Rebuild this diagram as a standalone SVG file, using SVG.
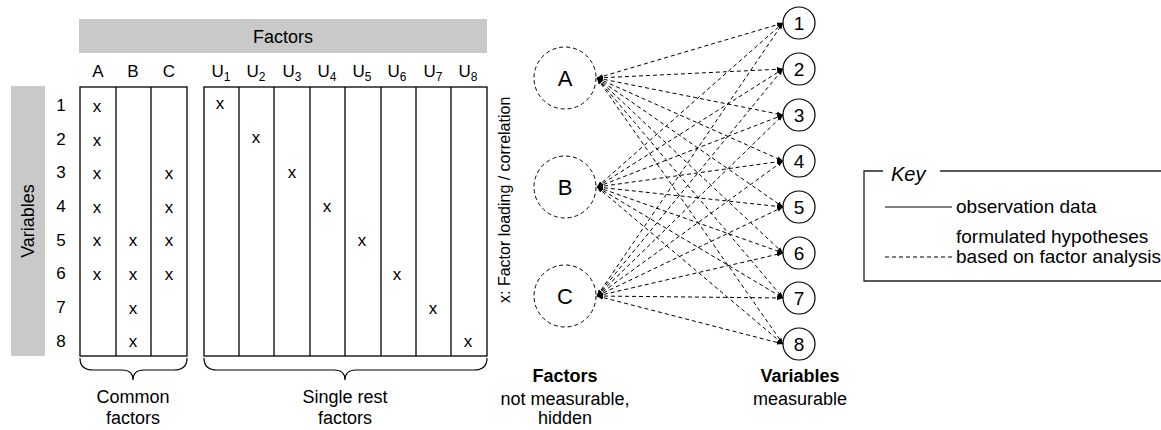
<svg xmlns="http://www.w3.org/2000/svg" width="1161" height="430" viewBox="0 0 1161 430">
<style>
text{font-family:"Liberation Sans",Arial,sans-serif;fill:#000}
.t{font-size:17px;text-anchor:middle}
.h{font-size:18px;text-anchor:middle}
.grid{fill:none;stroke:#000;stroke-width:1.3}
.brace{fill:none;stroke:#000;stroke-width:1.2}
.fc{fill:#fff;stroke:#000;stroke-width:1;stroke-dasharray:4 3}
.vc{fill:#fff;stroke:#000;stroke-width:1.2}
.hyp{stroke:#000;stroke-width:1;stroke-dasharray:4 3;fill:none;marker-start:url(#ah);marker-end:url(#ah)}
.sub{font-size:12px}
</style>
<defs>
<marker id="ah" viewBox="0 0 6 6" refX="6" refY="3" markerWidth="6" markerHeight="6" markerUnits="userSpaceOnUse" orient="auto-start-reverse">
<path d="M0,0.8 L6,3 L0,5.2 z" fill="#000"/>
</marker>
</defs>
<rect width="1161" height="430" fill="#fff"/>

<g id="matrix">
<rect x="79" y="19" width="408" height="34" fill="#c9c9c9"/>
<text class="h" x="283" y="43">Factors</text>
<rect x="11" y="86" width="34" height="270" fill="#c9c9c9"/>
<text class="h" transform="translate(34,221) rotate(-90)" x="0" y="0">Variables</text>

<g id="col-headers">
<text class="t" x="98" y="77">A</text>
<text class="t" x="133" y="77">B</text>
<text class="t" x="169" y="77">C</text>
<text class="t" x="221" y="77">U<tspan class="sub" dy="4">1</tspan></text>
<text class="t" x="256" y="77">U<tspan class="sub" dy="4">2</tspan></text>
<text class="t" x="292" y="77">U<tspan class="sub" dy="4">3</tspan></text>
<text class="t" x="327" y="77">U<tspan class="sub" dy="4">4</tspan></text>
<text class="t" x="362" y="77">U<tspan class="sub" dy="4">5</tspan></text>
<text class="t" x="397" y="77">U<tspan class="sub" dy="4">6</tspan></text>
<text class="t" x="433" y="77">U<tspan class="sub" dy="4">7</tspan></text>
<text class="t" x="468" y="77">U<tspan class="sub" dy="4">8</tspan></text>
</g>

<g id="row-numbers">
<text class="t" x="61" y="111">1</text>
<text class="t" x="61" y="145">2</text>
<text class="t" x="61" y="178">3</text>
<text class="t" x="61" y="212">4</text>
<text class="t" x="61" y="246">5</text>
<text class="t" x="61" y="279">6</text>
<text class="t" x="61" y="313">7</text>
<text class="t" x="61" y="347">8</text>
</g>

<g id="common-table">
<rect class="grid" x="80" y="87" width="107" height="269"/>
<line class="grid" x1="116" y1="87" x2="116" y2="356"/>
<line class="grid" x1="151" y1="87" x2="151" y2="356"/>
<text class="t" x="97" y="112">x</text>
<text class="t" x="97" y="146">x</text>
<text class="t" x="97" y="179">x</text>
<text class="t" x="97" y="213">x</text>
<text class="t" x="97" y="246">x</text>
<text class="t" x="97" y="280">x</text>
<text class="t" x="133" y="246">x</text>
<text class="t" x="133" y="280">x</text>
<text class="t" x="133" y="314">x</text>
<text class="t" x="133" y="347">x</text>
<text class="t" x="169" y="179">x</text>
<text class="t" x="169" y="213">x</text>
<text class="t" x="169" y="246">x</text>
<text class="t" x="169" y="280">x</text>
</g>

<g id="single-table">
<rect class="grid" x="204" y="87" width="283" height="269"/>
<line class="grid" x1="239" y1="87" x2="239" y2="356"/>
<line class="grid" x1="274" y1="87" x2="274" y2="356"/>
<line class="grid" x1="310" y1="87" x2="310" y2="356"/>
<line class="grid" x1="345" y1="87" x2="345" y2="356"/>
<line class="grid" x1="381" y1="87" x2="381" y2="356"/>
<line class="grid" x1="416" y1="87" x2="416" y2="356"/>
<line class="grid" x1="451" y1="87" x2="451" y2="356"/>
<text class="t" x="220" y="109">x</text>
<text class="t" x="256" y="143">x</text>
<text class="t" x="292" y="178">x</text>
<text class="t" x="327" y="212">x</text>
<text class="t" x="362" y="246">x</text>
<text class="t" x="397" y="280">x</text>
<text class="t" x="433" y="314">x</text>
<text class="t" x="468" y="347">x</text>
</g>

<text transform="translate(510,303) rotate(-90)" x="0" y="0" style="font-size:16px">x: Factor loading / correlation</text>

<g id="common-brace">
<path class="brace" d="M80,358 Q80,370 93,370 L122,370 Q133,370 133,380 Q133,370 144,370 L174,370 Q187,370 187,358"/>
<text class="h" x="133" y="403">Common</text>
<text class="h" x="133" y="424">factors</text>
</g>
<g id="single-brace">
<path class="brace" d="M204,358 Q204,370 217,370 L334,370 Q345,370 345,380 Q345,370 356,370 L474,370 Q487,370 487,358"/>
<text class="h" x="345" y="403">Single rest</text>
<text class="h" x="345" y="424">factors</text>
</g>
</g>

<g id="connectors">
<line class="hyp" x1="597" y1="78" x2="783" y2="23"/>
<line class="hyp" x1="597" y1="78" x2="783" y2="69"/>
<line class="hyp" x1="597" y1="78" x2="783" y2="115"/>
<line class="hyp" x1="597" y1="78" x2="783" y2="161"/>
<line class="hyp" x1="597" y1="78" x2="783" y2="207"/>
<line class="hyp" x1="597" y1="78" x2="783" y2="253"/>
<line class="hyp" x1="597" y1="78" x2="783" y2="298"/>
<line class="hyp" x1="597" y1="78" x2="783" y2="344"/>
<line class="hyp" x1="597" y1="187" x2="783" y2="23"/>
<line class="hyp" x1="597" y1="187" x2="783" y2="69"/>
<line class="hyp" x1="597" y1="187" x2="783" y2="115"/>
<line class="hyp" x1="597" y1="187" x2="783" y2="161"/>
<line class="hyp" x1="597" y1="187" x2="783" y2="207"/>
<line class="hyp" x1="597" y1="187" x2="783" y2="253"/>
<line class="hyp" x1="597" y1="187" x2="783" y2="298"/>
<line class="hyp" x1="597" y1="187" x2="783" y2="344"/>
<line class="hyp" x1="597" y1="296" x2="783" y2="23"/>
<line class="hyp" x1="597" y1="296" x2="783" y2="69"/>
<line class="hyp" x1="597" y1="296" x2="783" y2="115"/>
<line class="hyp" x1="597" y1="296" x2="783" y2="161"/>
<line class="hyp" x1="597" y1="296" x2="783" y2="207"/>
<line class="hyp" x1="597" y1="296" x2="783" y2="253"/>
<line class="hyp" x1="597" y1="296" x2="783" y2="298"/>
<line class="hyp" x1="597" y1="296" x2="783" y2="344"/>
</g>

<g id="factor-A"><circle class="fc" cx="565" cy="78" r="31"/><text x="565" y="86" style="font-size:22px;text-anchor:middle">A</text></g>
<g id="factor-B"><circle class="fc" cx="565" cy="187" r="31"/><text x="565" y="195" style="font-size:22px;text-anchor:middle">B</text></g>
<g id="factor-C"><circle class="fc" cx="565" cy="296" r="31"/><text x="565" y="304" style="font-size:22px;text-anchor:middle">C</text></g>

<g id="var-1"><circle class="vc" cx="799" cy="23" r="16"/><text x="799" y="30" style="font-size:19px;text-anchor:middle">1</text></g>
<g id="var-2"><circle class="vc" cx="799" cy="69" r="16"/><text x="799" y="76" style="font-size:19px;text-anchor:middle">2</text></g>
<g id="var-3"><circle class="vc" cx="799" cy="115" r="16"/><text x="799" y="122" style="font-size:19px;text-anchor:middle">3</text></g>
<g id="var-4"><circle class="vc" cx="799" cy="161" r="16"/><text x="799" y="168" style="font-size:19px;text-anchor:middle">4</text></g>
<g id="var-5"><circle class="vc" cx="799" cy="207" r="16"/><text x="799" y="214" style="font-size:19px;text-anchor:middle">5</text></g>
<g id="var-6"><circle class="vc" cx="799" cy="253" r="16"/><text x="799" y="260" style="font-size:19px;text-anchor:middle">6</text></g>
<g id="var-7"><circle class="vc" cx="799" cy="298" r="16"/><text x="799" y="305" style="font-size:19px;text-anchor:middle">7</text></g>
<g id="var-8"><circle class="vc" cx="799" cy="344" r="16"/><text x="799" y="351" style="font-size:19px;text-anchor:middle">8</text></g>

<g id="labels">
<text class="h" x="565" y="382" style="font-weight:bold">Factors</text>
<text class="h" x="565" y="405">not measurable,</text>
<text class="h" x="565" y="424">hidden</text>
<text class="h" x="800" y="382" style="font-weight:bold">Variables</text>
<text class="h" x="800" y="405">measurable</text>
</g>

<g id="key">
<path d="M883,171 L864,171 L864,281 L1161,281 M940,171 L1161,171" fill="none" stroke="#222" stroke-width="1.3"/>
<text x="891" y="181" style="font-size:20px;font-style:italic">Key</text>
<line x1="885" y1="207" x2="952" y2="207" stroke="#000" stroke-width="1.2"/>
<text x="956" y="213" style="font-size:19px">observation data</text>
<line x1="885" y1="257" x2="952" y2="257" stroke="#000" stroke-width="1.2" stroke-dasharray="4 3"/>
<text x="956" y="243" style="font-size:19px">formulated  hypotheses</text>
<text x="956" y="263" style="font-size:19px">based on factor analysis</text>
</g>
</svg>
